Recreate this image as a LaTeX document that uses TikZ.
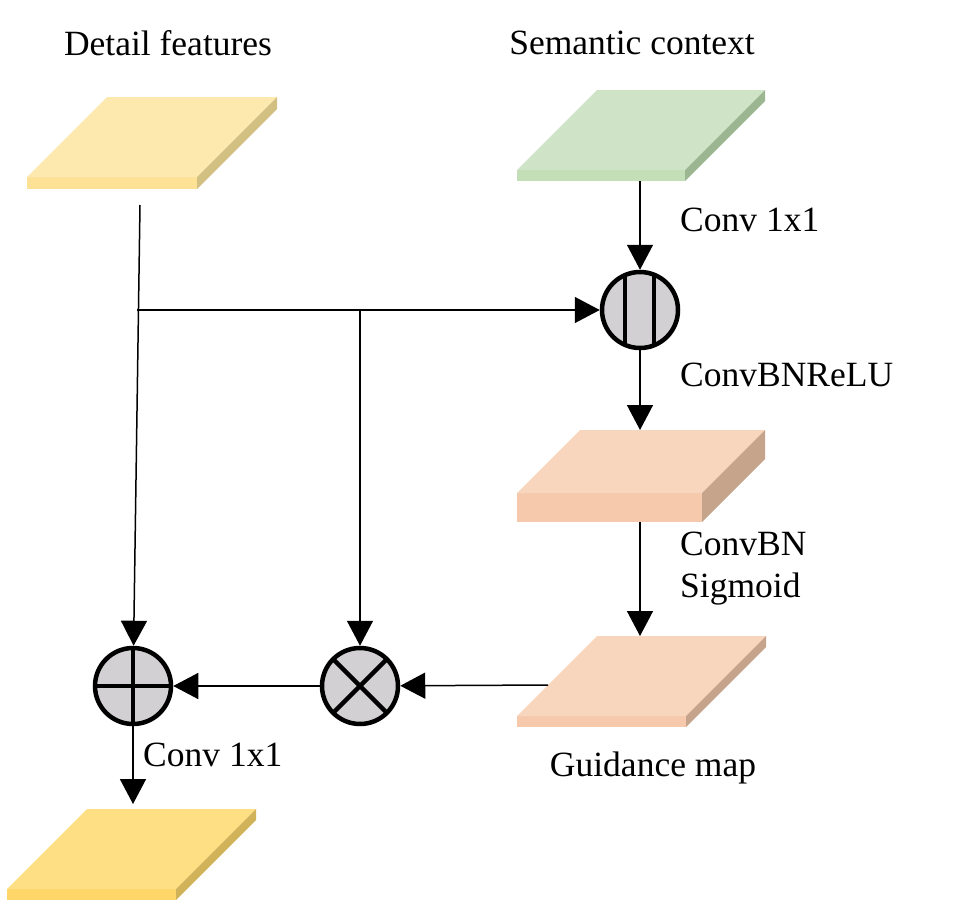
\documentclass[tikz,border=0pt]{standalone}
\usepackage{fontspec}
\setmainfont{Liberation Serif}
\newfontfamily\capfont{Liberation Serif}
\usepackage{tikz}
\usetikzlibrary{arrows.meta, positioning, calc}
\definecolor{opgray}{RGB}{210,208,210}
\definecolor{detailtop}{RGB}{253,233,174}
\definecolor{detailfront}{RGB}{253,226,150}
\definecolor{detailside}{RGB}{210,192,130}
\definecolor{semtop}{RGB}{207,227,198}
\definecolor{semfront}{RGB}{196,222,184}
\definecolor{semside}{RGB}{156,182,146}
\definecolor{peachtop}{RGB}{248,214,190}
\definecolor{peachfront}{RGB}{246,201,172}
\definecolor{peachside}{RGB}{198,163,139}
\definecolor{outtop}{RGB}{254,223,132}
\definecolor{outfront}{RGB}{254,214,106}
\definecolor{outside}{RGB}{208,178,88}
\tikzstyle{slabfront} = [rectangle, inner sep=0, outer sep=0, draw=none]
\tikzstyle{opnode} = [circle, draw=black, line width=4.5pt, fill=opgray, minimum size=76pt, inner sep=0]
\tikzstyle{arrow} = [line width=1.5pt, -{Triangle[length=25pt, width=26pt]}]
\tikzstyle{txt} = [font=\capfont\fontsize{35.5}{42}\selectfont, inner sep=0]
% slab: name, front centre, width, thickness, depth, colour prefix
\newcommand{\slab}[6]{%
  \node (#1) [slabfront, fill=#6front, minimum width=#3pt, minimum height=#4pt] at #2 {};
  \fill[#6top] (#1.north west) -- ++(#5,-#5) coordinate (#1-top) -- ++(#3,0) -- (#1.north east) -- cycle;
  \fill[#6side] (#1.north east) -- ++(#5,-#5) -- ++(0,#4) -- (#1.south east) -- cycle;
}

\begin{document}
\begin{tikzpicture}[x=1pt, y=-1pt]
    \useasboundingbox (0,0) rectangle (967,902);

    % Feature maps
    \slab{detail}{(112,183)}{170}{12}{80}{detail}
    \slab{sem}{(601,175.5)}{168}{11}{80}{sem}
    \slab{relu}{(609.5,507.5)}{185}{29}{63}{peach}
    \slab{guide}{(601.5,721.5)}{169}{11}{80}{peach}
    \slab{out}{(91.5,894.5)}{169}{11}{80}{out}

    % Titles
    \node (dtitle) [txt] at (168,43) {Detail features};
    \node (stitle) [txt] at (632,43) {Semantic context};

    % Operators
    \node (concat) [opnode, path picture={
        \draw[line width=4.5pt] ([xshift=-15pt]path picture bounding box.north) -- ([xshift=-15pt]path picture bounding box.south);
        \draw[line width=4.5pt] ([xshift=14pt]path picture bounding box.north) -- ([xshift=14pt]path picture bounding box.south);}] at (640,310) {};
    \node (mul) [opnode, path picture={
        \draw[line width=4.5pt] (path picture bounding box.north west) -- (path picture bounding box.south east);
        \draw[line width=4.5pt] (path picture bounding box.north east) -- (path picture bounding box.south west);}] at (360,686) {};
    \node (add) [opnode, path picture={
        \draw[line width=4.5pt] (path picture bounding box.north) -- (path picture bounding box.south);
        \draw[line width=4.5pt] (path picture bounding box.west) -- (path picture bounding box.east);}] at (133,686) {};

    % Labels
    \node (conv1) [txt, anchor=west] at (680,220) {Conv 1x1};
    \node (cbr) [txt, anchor=west] at (680,375) {ConvBNReLU};
    \node (sigm) [txt, anchor=west, align=left] at (680,569) {ConvBN\\Sigmoid};
    \node (gmap) [txt] at (653,768) {Guidance map};
    \node (conv2) [txt, anchor=west] at (143,755) {Conv 1x1};

    % Taps
    \coordinate (dtap) at (140,205);
    \coordinate (split) at (137,310);
    \coordinate (gtap) at (548,685);

    % Arrows
    \draw [arrow] (sem.south -| concat) -- (concat);
    \draw [arrow] (concat) -- (concat |- relu-top);
    \draw [arrow] (concat |- relu.south) -- (concat |- guide-top);
    \draw [arrow] (dtap) -- (add);
    \draw [arrow] (split) -- (concat);
    \draw [arrow] (split -| mul) -- (mul);
    \draw [arrow] (gtap) -- (mul);
    \draw [arrow] (mul) -- (add);
    \draw [arrow, shorten >=5pt] (add) -- (add |- out-top);
\end{tikzpicture}
\end{document}
